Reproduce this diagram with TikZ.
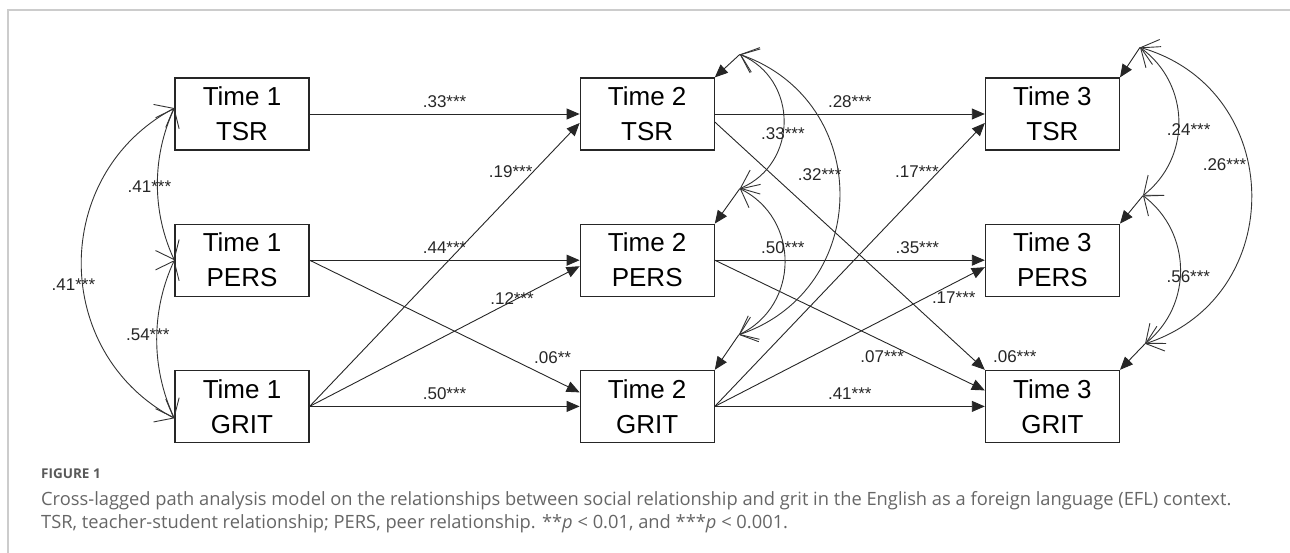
\documentclass[tikz,border=0pt]{standalone}
\usepackage{fontspec}
\setmainfont{Liberation Sans}
\newfontfamily\capfont{Open Sans}
\usepackage{tikz}
\usetikzlibrary{arrows.meta, positioning}
\tikzset{
    varbox/.style={rectangle, draw=black!85, line width=1.2pt, minimum width=134pt, minimum height=72pt, align=center, font=\fontsize{26}{35}\selectfont},
    patharr/.style={-{Triangle[length=13pt,width=11pt]}, line width=0.9pt, black!85},
    covarr/.style={{Straight Barb[length=16pt,width=26pt]}-{Straight Barb[length=16pt,width=26pt]}, line width=0.9pt, black!80},
    coef/.style={font=\fontsize{17}{20}\selectfont, inner sep=1pt, text=black!85},
}

\begin{document}
\begin{tikzpicture}[x=1pt, y=-1pt,
  frameline/.style={draw=black!20, line width=1.3pt},
  figlabel/.style={font=\capfont\bfseries\fontsize{13.5}{16}\selectfont, text=black!65, anchor=base west, inner sep=0pt},
  captext/.style={font=\capfont\fontsize{18.3}{23}\selectfont, text=black!60, anchor=base west, inner sep=0pt}
]
\useasboundingbox (0,0) rectangle (1290,553);
% page frame (top and left edges only)
\draw[frameline] (8,553) -- (8,10) -- (1290,10);

% Time 1 column
\node[varbox] (t1tsr) at (242,114) {Time 1\\TSR};
\node[varbox,below=73pt of t1tsr] (t1pers) {Time 1\\PERS};
\node[varbox,below=73pt of t1pers] (t1grit) {Time 1\\GRIT};

% Time 2 column
\node[varbox,right=270pt of t1tsr] (t2tsr) {Time 2\\TSR};
\node[varbox,right=270pt of t1pers] (t2pers) {Time 2\\PERS};
\node[varbox,right=270pt of t1grit] (t2grit) {Time 2\\GRIT};

% Time 3 column
\node[varbox,right=270pt of t2tsr] (t3tsr) {Time 3\\TSR};
\node[varbox,right=270pt of t2pers] (t3pers) {Time 3\\PERS};
\node[varbox,right=270pt of t2grit] (t3grit) {Time 3\\GRIT};

% residual points of the endogenous variables
\coordinate (e2tsr) at ([shift={(25pt,23pt)}]t2tsr.north east);
\coordinate (e2pers) at ([shift={(25pt,35pt)}]t2pers.north east);
\coordinate (e2grit) at ([shift={(24pt,35pt)}]t2grit.north east);
\coordinate (e3tsr) at ([shift={(20pt,30pt)}]t3tsr.north east);
\coordinate (e3pers) at ([shift={(23pt,28pt)}]t3pers.north east);
\coordinate (e3grit) at ([shift={(25pt,26pt)}]t3grit.north east);

% Time 1 -> Time 2 paths
\draw[patharr] (t1tsr.east) -- node[coef,above=5pt] (l12tt) {.33***} (t2tsr.west);
\draw[patharr] (t1pers.east) -- node[coef,above=5pt] (l12pp) {.44***} (t2pers.west);
\draw[patharr] (t1grit.east) -- node[coef,above=5pt] (l12gg) {.50***} (t2grit.west);
\draw[patharr] (t1grit.east) -- node[coef,pos=.83,xshift=-23pt] (l12gt) {.19***} ([yshift=-9pt]t2tsr.west);
\draw[patharr] (t1grit.east) -- node[coef,pos=.75,yshift=3pt] (l12gp) {.12***} ([yshift=-6pt]t2pers.west);
\draw[patharr] (t1pers.east) -- node[coef,pos=.9,yshift=22pt] (l12pg) {.06**} ([yshift=14pt]t2grit.west);

% Time 2 -> Time 3 paths
\draw[patharr] (t2tsr.east) -- node[coef,above=5pt] (l23tt) {.28***} (t3tsr.west);
\draw[patharr] (t2pers.east) -- node[coef,pos=.75,above=5pt] (l23pp) {.35***} (t3pers.west);
\draw[patharr] (t2grit.east) -- node[coef,above=5pt] (l23gg) {.41***} (t3grit.west);
\draw[patharr] (t2grit.east) -- node[coef,pos=.83,xshift=-22pt] (l23gt) {.17***} ([yshift=-9pt]t3tsr.west);
\draw[patharr] (t2grit.east) -- node[coef,pos=.885,yshift=-14pt] (l23gp) {.17***} ([yshift=-7pt]t3pers.west);
\draw[patharr] (t2pers.east) -- node[coef,pos=.62,yshift=-16pt] (l23pg) {.07***} ([yshift=16pt]t3grit.west);
\draw[patharr] ([yshift=-8pt]t2tsr.east) -- node[coef,pos=1,xshift=30pt,yshift=13pt] (l23tg) {.06***} (t3grit.north west);

% residual arrows
\draw[patharr] (e2tsr) -- (t2tsr.north east);
\draw[patharr] (e2pers) -- (t2pers.north east);
\draw[patharr] (e2grit) -- (t2grit.north east);
\draw[patharr] (e3tsr) -- (t3tsr.north east);
\draw[patharr] (e3pers) -- (t3pers.north east);
\draw[patharr] (e3grit) -- (t3grit.north east);

% Time 1 covariances
\draw[covarr] (t1tsr.175) to[bend right=25,looseness=.9] node[coef,xshift=-8pt,yshift=-3pt] (r1tp) {.41***} (t1pers.west);
\draw[covarr] (t1pers.west) to[bend right=25,looseness=.9] node[coef,xshift=-9pt,yshift=5pt] (r1pg) {.54***} (t1grit.190);
\draw[covarr] (t1tsr.175) to[bend right=62,looseness=1.16] node[coef,xshift=-8pt,yshift=-21pt] (r1tg) {.41***} (t1grit.190);

% Time 2 residual covariances
\draw[covarr] (e2tsr) to[bend left=67,looseness=1.22] node[coef,xshift=-1pt,yshift=-12pt] (r2tp) {.33***} (e2pers);
\draw[covarr] (e2pers) to[bend left=64,looseness=1.18] node[coef,xshift=-2pt,yshift=14pt] (r2pg) {.50***} (e2grit);
\draw[covarr] (e2tsr) to[bend left=71,looseness=1.29] node[coef,xshift=-20pt,yshift=20pt] (r2tg) {.32***} (e2grit);

% Time 3 residual covariances
\draw[covarr] (e3tsr) to[bend left=53,looseness=1.07] node[coef,xshift=10pt,yshift=-9pt] (r3tp) {.24***} (e3pers);
\draw[covarr] (e3pers) to[bend left=52,looseness=1.06] node[coef,xshift=8pt,yshift=-7pt] (r3pg) {.56***} (e3grit);
\draw[covarr] (e3tsr) to[bend left=73,looseness=1.31] node[coef,xshift=-27pt,yshift=29pt] (r3tg) {.26***} (e3grit);

% Caption
\node[figlabel] (figno) at (41,478) {FIGURE 1};
\node[captext] (capa) at (41,505) {Cross-lagged path analysis model on the relationships between social relationship and grit in the English as a foreign language (EFL) context.};
\node[captext] (capb) at (41,528) {TSR, teacher-student relationship; PERS, peer relationship. **\textit{p} < 0.01, and ***\textit{p} < 0.001.};
\end{tikzpicture}
\end{document}
